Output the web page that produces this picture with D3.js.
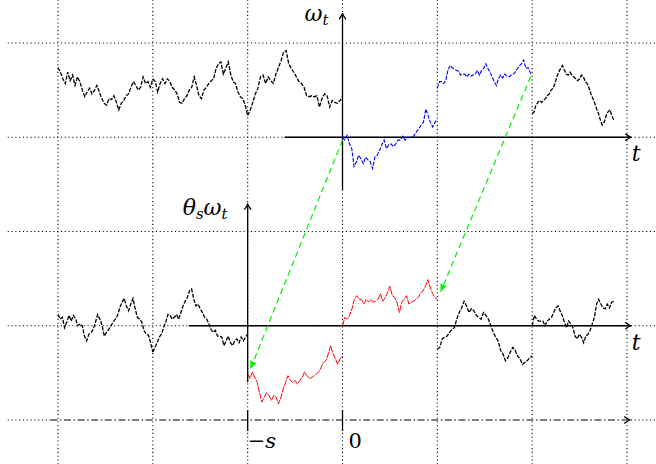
<!DOCTYPE html>
<html><head><meta charset="utf-8">
<script src="https://cdn.jsdelivr.net/npm/d3@7"></script>
<style>body{margin:0;background:#fff}svg{display:block}</style>
</head><body><svg id="c" width="656" height="464"></svg>
<script>
// ---- data ----
const gridT = [-3, -2, -1, 0, 1, 2, 3];
const gridLevels = [0, 1, 2, 3, 4];
const topBase = 3;   // level of the ω_t axis
const botBase = 1;   // level of the θ_s ω_t axis
const tickT = [-1, 0];
const tickLabels = ["\u2212s", "0"];

// ω_t (upper panel), pieces between integer times
const topSpans = [[-3, -2], [-2, -1], [-1, 0], [0, 1], [1, 2], [2, 2.86]];
const topColors = ["black", "black", "black", "blue", "blue", "black"];
const omegaA = [0.74,0.69,0.62,0.57,0.69,0.60,0.66,0.55,0.64,0.59,0.50,0.43,0.48,0.52,0.46,0.50,0.55,0.48,0.41,0.36,0.34,0.41,0.40,0.44,0.37,0.29,0.36,0.39,0.44,0.46,0.53,0.59,0.55,0.50,0.53,0.64,0.57,0.59,0.53,0.62];
const omegaB = [0.62,0.59,0.48,0.57,0.62,0.57,0.62,0.59,0.53,0.50,0.46,0.37,0.36,0.41,0.44,0.50,0.53,0.64,0.55,0.44,0.41,0.50,0.53,0.57,0.60,0.62,0.73,0.78,0.80,0.67,0.73,0.80,0.67,0.59,0.57,0.48,0.43,0.41,0.34,0.23];
const omegaC = [0.23,0.29,0.37,0.46,0.52,0.64,0.66,0.57,0.64,0.60,0.57,0.67,0.74,0.81,0.90,0.92,0.78,0.73,0.69,0.64,0.59,0.57,0.53,0.44,0.43,0.44,0.43,0.44,0.32,0.41,0.46,0.44,0.32,0.39,0.37,0.36,0.39,0.43];
const omegaD = [0.00,-0.03,0.02,-0.07,-0.12,-0.31,-0.26,-0.19,-0.23,-0.28,-0.21,-0.24,-0.26,-0.33,-0.21,-0.19,-0.14,-0.08,-0.03,-0.12,-0.08,-0.07,-0.10,-0.07,-0.03,-0.03,0.01,-0.03,-0.01,0.00,0.00,0.02,0.06,0.09,0.13,0.16,0.30,0.23,0.16,0.11,0.16,0.19];
const omegaE = [0.52,0.59,0.59,0.57,0.60,0.71,0.76,0.74,0.72,0.71,0.70,0.66,0.67,0.67,0.64,0.67,0.65,0.66,0.67,0.71,0.66,0.71,0.73,0.78,0.73,0.69,0.64,0.59,0.55,0.62,0.66,0.63,0.67,0.65,0.64,0.66,0.67,0.69,0.73,0.76,0.78,0.82,0.73,0.74,0.69,0.66];
const omegaF = [0.25,0.27,0.34,0.37,0.39,0.37,0.39,0.41,0.44,0.46,0.50,0.52,0.57,0.64,0.69,0.73,0.76,0.71,0.67,0.66,0.69,0.66,0.64,0.62,0.60,0.62,0.66,0.64,0.59,0.57,0.52,0.46,0.41,0.36,0.30,0.25,0.18,0.13,0.16,0.23,0.27,0.29,0.23,0.18];
const topValues = [omegaA, omegaB, omegaC, omegaD, omegaE, omegaF];

// θ_s ω_t (lower panel)
const botSpans = [[-3, -2], [-2, -1], [-1, 0], [0, 1], [1, 2], [2, 2.86]];
const botColors = ["black", "black", "red", "red", "black", "black"];
const shiftP = [0.12,0.07,0.09,-0.02,0.04,0.11,0.05,0.11,0.07,0.00,0.02,0.00,-0.11,-0.16,-0.09,-0.07,-0.04,0.04,0.12,0.07,0.00,-0.11,-0.07,-0.04,0.00,0.04,0.07,0.11,0.19,0.25,0.29,0.21,0.16,0.23,0.29,0.18,0.09,0.07,0.04,-0.05,-0.09,-0.10,-0.18,-0.28];
const shiftQ = [-0.28,-0.23,-0.18,-0.12,-0.09,-0.02,0.04,0.12,0.11,0.07,0.09,0.12,0.07,0.14,0.21,0.26,0.30,0.37,0.39,0.28,0.21,0.23,0.18,0.14,0.09,0.07,0.02,-0.04,-0.07,-0.05,-0.11,-0.11,-0.12,-0.21,-0.16,-0.11,-0.18,-0.21,-0.16,-0.14,-0.18,-0.12,-0.16,-0.12,-0.09];
const shiftR = [-0.51,-0.56,-0.49,-0.55,-0.60,-0.71,-0.81,-0.76,-0.71,-0.74,-0.79,-0.74,-0.76,-0.83,-0.76,-0.67,-0.60,-0.53,-0.58,-0.60,-0.58,-0.62,-0.58,-0.55,-0.49,-0.53,-0.56,-0.55,-0.53,-0.51,-0.49,-0.44,-0.39,-0.37,-0.30,-0.21,-0.30,-0.35,-0.41,-0.35,-0.32];
const shiftS = [0.00,0.09,0.07,0.11,0.18,0.28,0.32,0.28,0.28,0.23,0.28,0.25,0.28,0.25,0.26,0.28,0.34,0.26,0.30,0.35,0.42,0.32,0.30,0.25,0.14,0.25,0.28,0.32,0.23,0.25,0.26,0.28,0.30,0.35,0.37,0.42,0.49,0.41,0.34,0.30,0.28];
const shiftT = [-0.25,-0.23,-0.14,-0.12,-0.11,-0.07,-0.04,-0.02,0.07,0.14,0.19,0.26,0.21,0.14,0.18,0.16,0.11,0.09,0.07,0.14,0.11,0.07,0.00,-0.07,-0.12,-0.16,-0.26,-0.30,-0.37,-0.34,-0.28,-0.23,-0.26,-0.32,-0.35,-0.41,-0.39,-0.37,-0.34,-0.32];
const shiftG = [0.00,0.11,0.07,0.05,0.05,0.05,0.00,0.05,0.07,0.09,0.14,0.19,0.21,0.16,0.11,0.04,-0.02,0.05,0.02,-0.02,-0.11,-0.14,-0.09,-0.12,-0.18,-0.11,-0.09,-0.05,0.02,0.09,0.23,0.28,0.23,0.19,0.18,0.23,0.19,0.25,0.26];
const botValues = [shiftP, shiftQ, shiftR, shiftS, shiftT, shiftG];

// green shift arrows: from (t, ω) in the upper panel to (t, θω) in the lower panel
const arrowFromT = [0, 1.985];
const arrowFromV = [-0.03, 0.645];
const arrowToT = [-0.97, 1.035];
const arrowToV = [-0.455, 0.36];

// ---- drawing ----
const svg = d3.select("#c");
const x = d3.scaleLinear().domain([-3, 3]).range([58, 627]);
const y = d3.scaleLinear().domain([0, 4]).range([420, 43]);
const serif = "'DejaVu Serif', serif";

const defs = svg.append("defs");
defs.append("marker").attr("id", "ax").attr("viewBox", "-6 -4 7 8")
  .attr("refX", 0).attr("refY", 0).attr("markerWidth", 7).attr("markerHeight", 8)
  .attr("markerUnits", "userSpaceOnUse").attr("orient", "auto")
  .append("path").attr("d", "M-5.5,-3.4 Q-1.5,-0.6 0,0 Q-1.5,0.6 -5.5,3.4")
  .attr("fill", "none").attr("stroke", "black").attr("stroke-width", 1.3);
defs.append("marker").attr("id", "gr").attr("viewBox", "-9 -4 10 8")
  .attr("refX", 0).attr("refY", 0).attr("markerWidth", 10).attr("markerHeight", 8)
  .attr("markerUnits", "userSpaceOnUse").attr("orient", "auto")
  .append("path").attr("d", "M0,0 L-8,-3.5 Q-6,0 -8,3.5 Z").attr("fill", "#00ee00");

// dotted grid
const grid = svg.append("g").attr("stroke", "#000").attr("stroke-width", 1.1)
  .attr("stroke-dasharray", "1.1,2.7");
grid.selectAll("line.v").data(gridT).join("line").attr("class", "v")
  .attr("x1", d => x(d)).attr("x2", d => x(d))
  .attr("y1", y(4.46)).attr("y2", y(-0.47));
grid.selectAll("line.h").data(gridLevels).join("line").attr("class", "h")
  .attr("x1", x(-3.53)).attr("x2", x(3.4))
  .attr("y1", d => y(d)).attr("y2", d => y(d));

// dash-dot baseline with the two time ticks
svg.append("line").attr("x1", x(-3.08)).attr("x2", x(3.03)).attr("y1", y(0)).attr("y2", y(0))
  .attr("stroke", "white").attr("stroke-width", 2.2);
svg.append("line").attr("x1", x(-3.08)).attr("x2", x(3.03)).attr("y1", y(0)).attr("y2", y(0))
  .attr("stroke", "black").attr("stroke-width", 1.1).attr("stroke-dasharray", "7,2.5,1.6,2.5")
  .attr("marker-end", "url(#ax)");
svg.selectAll("line.tick").data(tickT).join("line").attr("class", "tick")
  .attr("x1", d => x(d)).attr("x2", d => x(d))
  .attr("y1", y(0) - 10).attr("y2", y(0) + 11)
  .attr("stroke", "black").attr("stroke-width", 1.3);
svg.selectAll("text.tick").data(tickLabels).join("text").attr("class", "tick")
  .attr("x", (d, i) => x(tickT[i]) + (i === 0 ? 0 : 6)).attr("y", y(0) + 28)
  .attr("font-family", serif).attr("font-size", 21)
  .each(function (d, i) {
    const t = d3.select(this);
    if (i === 0) {
      t.append("tspan").text("\u2212");
      t.append("tspan").attr("font-style", "italic").text("s");
    } else t.text(d);
  });

// axes
function axisLine(x1, y1, x2, y2) {
  svg.append("line").attr("x1", x1).attr("y1", y1).attr("x2", x2).attr("y2", y2)
    .attr("stroke", "black").attr("stroke-width", 1.3).attr("marker-end", "url(#ax)");
}
axisLine(x(-0.61), y(topBase), x(3.04), y(topBase));
axisLine(x(0), y(topBase - 0.56), x(0), y(topBase + 1.31));
axisLine(x(-1.62), y(botBase), x(3.04), y(botBase));
axisLine(x(-1), y(botBase - 0.6), x(-1), y(botBase + 1.29));

// paths
const line = d3.line().x(d => x(d[0])).y(d => y(d[1]));
function pts(span, vals, base) {
  const n = vals.length;
  return vals.map((v, i) => [span[0] + (span[1] - span[0]) * i / (n - 1), base + v]);
}
const styles = { black: ["#000", 1.3, "4,1.4"], blue: ["#0000ff", 1.1, "4,1.4"], red: ["#ff0000", 1.0, "6,1"] };
function drawPanel(spans, values, colors, base) {
  spans.forEach((s, i) => {
    const st = styles[colors[i]];
    svg.append("path").attr("d", line(pts(s, values[i], base)))
      .attr("fill", "none").attr("stroke", st[0]).attr("stroke-width", st[1])
      .attr("stroke-dasharray", st[2]).attr("stroke-linejoin", "miter");
  });
}
drawPanel(topSpans, topValues, topColors, topBase);
drawPanel(botSpans, botValues, botColors, botBase);

// green arrows
arrowFromT.forEach((t, i) => {
  svg.append("line")
    .attr("x1", x(t)).attr("y1", y(topBase + arrowFromV[i]))
    .attr("x2", x(arrowToT[i])).attr("y2", y(botBase + arrowToV[i]))
    .attr("stroke", "#00ee00").attr("stroke-width", 1.2).attr("stroke-dasharray", "6,4")
    .attr("marker-end", "url(#gr)");
});

// labels
function label(px, py, parts) {
  const t = svg.append("text").attr("x", px).attr("y", py)
    .attr("font-family", serif).attr("font-size", 22).attr("font-style", "italic");
  parts.forEach(p => {
    const ts = t.append("tspan").text(p[0]);
    if (p[1]) ts.attr("font-size", 15).attr("baseline-shift", "-4");
  });
}
label(x(0) - 38, y(topBase + 1.23), [["ω"], ["t", 1]]);
label(x(-1) - 65, y(botBase + 1.18), [["θ"], ["s", 1], ["ω"], ["t", 1]]);
label(x(3.04) + 1, y(topBase) + 24, [["t"]]);
label(x(3.04) + 1, y(botBase) + 24, [["t"]]);
</script></body></html>
